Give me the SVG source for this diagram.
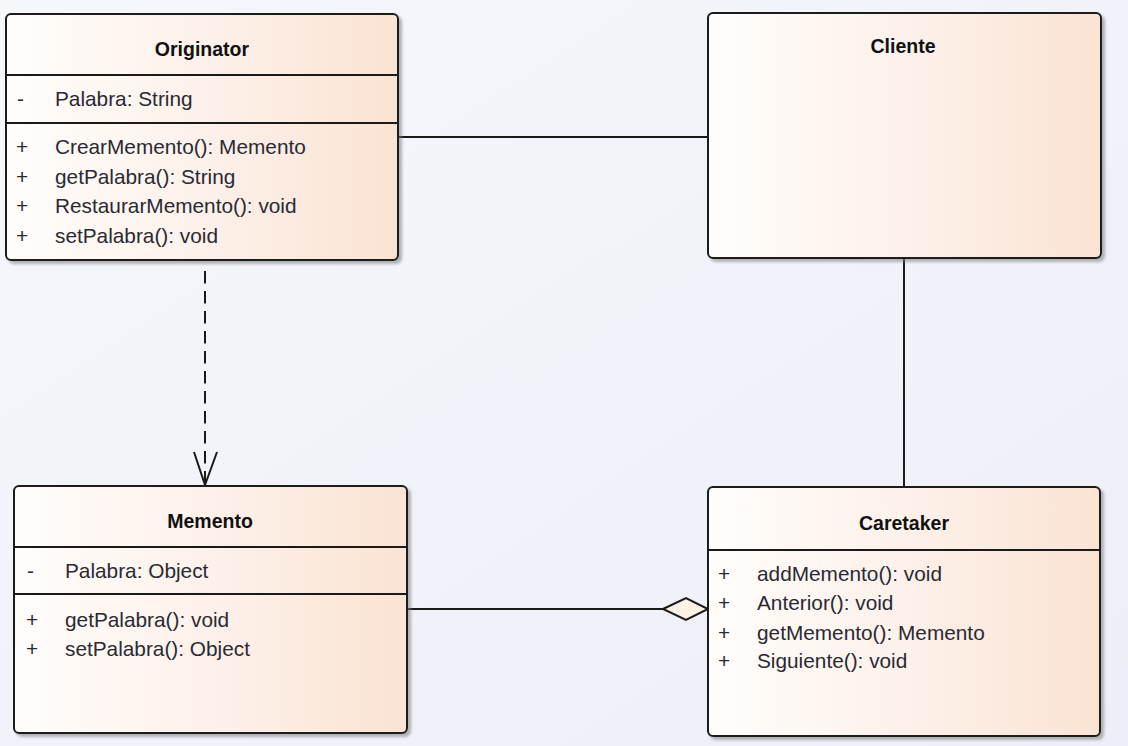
<svg xmlns="http://www.w3.org/2000/svg" width="1128" height="746" viewBox="0 0 1128 746">
<defs>
<linearGradient id="bg" x1="0" y1="0" x2="1" y2="1">
<stop offset="0" stop-color="#f5f7fb"/>
<stop offset="1" stop-color="#eceff7"/>
</linearGradient>
<linearGradient id="fill" x1="0" y1="0" x2="1" y2="0">
<stop offset="0" stop-color="#fffdfb"/>
<stop offset="0.5" stop-color="#fdf1ea"/>
<stop offset="1" stop-color="#fae3d3"/>
</linearGradient>
<filter id="shadow" x="-5%" y="-5%" width="110%" height="110%">
<feDropShadow dx="3" dy="3" stdDeviation="1.6" flood-color="#7a7a7a" flood-opacity="0.55"/>
</filter>
</defs>
<style>
.box{fill:url(#fill);stroke:#1a1a1a;stroke-width:2;filter:url(#shadow)}
.div{stroke:#1a1a1a;stroke-width:2}
.title{font-family:"Liberation Sans",Arial,sans-serif;font-size:19.5px;font-weight:bold;fill:#111;text-anchor:middle}
.m{font-family:"Liberation Sans",Arial,sans-serif;font-size:20.8px;fill:#2a2a33}
.conn{stroke:#1a1a1a;stroke-width:2;fill:none}
</style>
<rect x="0" y="0" width="1128" height="746" fill="url(#bg)"/>

<g id="connectors">
<line class="conn" x1="398" y1="137" x2="708" y2="137"/>
<line class="conn" x1="904" y1="258" x2="904" y2="487"/>
<line class="conn" x1="205" y1="271" x2="205" y2="484" stroke-dasharray="12.5,7.5"/>
<polyline class="conn" points="194,452 205,485 217,452"/>
<line class="conn" x1="407" y1="609" x2="663" y2="609"/>
<polygon points="663,609 686,598 708,609 686,620" fill="#fcf1e2" stroke="#1a1a1a" stroke-width="2"/>
</g>

<g id="Originator">
<rect class="box" x="6" y="14" width="392" height="246" rx="5"/>
<line class="div" x1="6" y1="75" x2="398" y2="75"/>
<line class="div" x1="6" y1="123" x2="398" y2="123"/>
<text class="title" x="202" y="56">Originator</text>
<text class="m" x="17" y="106">-</text><text class="m" x="55" y="106">Palabra: String</text>
<text class="m" x="16" y="154">+</text><text class="m" x="55" y="154">CrearMemento(): Memento</text>
<text class="m" x="16" y="184">+</text><text class="m" x="55" y="184">getPalabra(): String</text>
<text class="m" x="16" y="213">+</text><text class="m" x="55" y="213">RestaurarMemento(): void</text>
<text class="m" x="16" y="243">+</text><text class="m" x="55" y="243">setPalabra(): void</text>
</g>

<g id="Cliente">
<rect class="box" x="708" y="13" width="393" height="245" rx="5"/>
<text class="title" x="903" y="53">Cliente</text>
</g>

<g id="Memento">
<rect class="box" x="14" y="486" width="393" height="247" rx="5"/>
<line class="div" x1="14" y1="547" x2="407" y2="547"/>
<line class="div" x1="14" y1="594" x2="407" y2="594"/>
<text class="title" x="210" y="528">Memento</text>
<text class="m" x="27" y="578">-</text><text class="m" x="65" y="578">Palabra: Object</text>
<text class="m" x="26" y="627">+</text><text class="m" x="65" y="627">getPalabra(): void</text>
<text class="m" x="26" y="656">+</text><text class="m" x="65" y="656">setPalabra(): Object</text>
</g>

<g id="Caretaker">
<rect class="box" x="708" y="487" width="392" height="249" rx="5"/>
<line class="div" x1="708" y1="550" x2="1100" y2="550"/>
<text class="title" x="904" y="530">Caretaker</text>
<text class="m" x="718" y="581">+</text><text class="m" x="757" y="581">addMemento(): void</text>
<text class="m" x="718" y="610">+</text><text class="m" x="757" y="610">Anterior(): void</text>
<text class="m" x="718" y="640">+</text><text class="m" x="757" y="640">getMemento(): Memento</text>
<text class="m" x="718" y="668">+</text><text class="m" x="757" y="668">Siguiente(): void</text>
</g>
</svg>
